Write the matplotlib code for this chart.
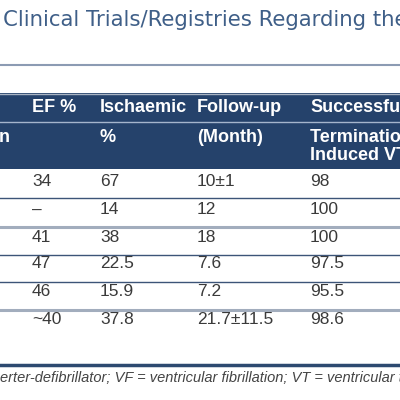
import matplotlib.pyplot as plt

# Table content (columns visible in the cropped reference)
header_top = ["EF %", "Ischaemic", "Follow-up", "Successful"]
header_sub = ["", "%", "(Month)", "Termination of"]
header_sub2 = ["", "", "", "Induced VT/VF"]
ef = ["34", "\u2013", "41", "47", "46", "~40"]
ischaemic = ["67", "14", "38", "22.5", "15.9", "37.8"]
follow_up = ["10\u00b11", "12", "18", "7.6", "7.2", "21.7\u00b111.5"]
success = ["98", "100", "100", "97.5", "95.5", "98.6"]

title = "Clinical Trials/Registries Regarding the Use"
footnote = ("erter-defibrillator; VF = ventricular fibrillation; "
            "VT = ventricular tachycardia.")

navy = "#25426b"
title_col = "#3f5f88"
body_col = "#3a3a3a"
body_font = ["Liberation Sans", "DejaVu Sans"]
head_font = ["Liberation Sans", "DejaVu Sans"]

fig = plt.figure(figsize=(4, 4), dpi=100)
ax = fig.add_axes([0, 0, 1, 1])
ax.set_xlim(0, 400)
ax.set_ylim(400, 0)
ax.axis("off")

# title and rule under it
ax.text(3, 20, title, color=title_col, fontsize=15.3, family=["DejaVu Sans"],
        va="center", ha="left")
ax.axhline(65, color="#8c9bb3", lw=1.5)

# header band
ax.axhspan(93, 169, color=navy, lw=0)
ax.axhline(93.5, color="#a9b4c4", lw=1)
ax.axhline(122, color="#a5b5cc", lw=1)

col_x = [32, 100, 197, 310]
for x, t in zip(col_x, header_top):
    ax.text(x, 108, t, color="white", fontsize=13, weight="bold",
            family=head_font, va="center", ha="left")
for x, t in zip(col_x, header_sub):
    ax.text(x, 138, t, color="white", fontsize=13, weight="bold",
            family=head_font, va="center", ha="left")
for x, t in zip(col_x, header_sub2):
    ax.text(x, 155, t, color="white", fontsize=13, weight="bold",
            family=head_font, va="center", ha="left")
ax.text(-1, 138, "n", color="white", fontsize=13, weight="bold",
        family=head_font, va="center", ha="left")

# body rows
row_y = [182, 210, 237, 263, 292, 320]
columns = [ef, ischaemic, follow_up, success]
for x, col in zip(col_x, columns):
    for y, t in zip(row_y, col):
        ax.text(x, y, t, color=body_col, fontsize=12.5, family=body_font,
                va="center", ha="left")

# row separators
for y, kind in zip([198, 227, 255, 282, 310],
                   ["dark", "light", "dark", "dark", "light"]):
    if kind == "dark":
        ax.axhline(y, color="#3c5478", lw=1)
    else:
        ax.axhline(y, color="#a2adbd", lw=2.2)

ax.axhline(365, color="#2d4a70", lw=2.5)

ax.text(0, 378, footnote, color="#444444", fontsize=10.5, style="italic",
        family=body_font, va="center", ha="left")

fig.savefig("out.png", dpi=100)
